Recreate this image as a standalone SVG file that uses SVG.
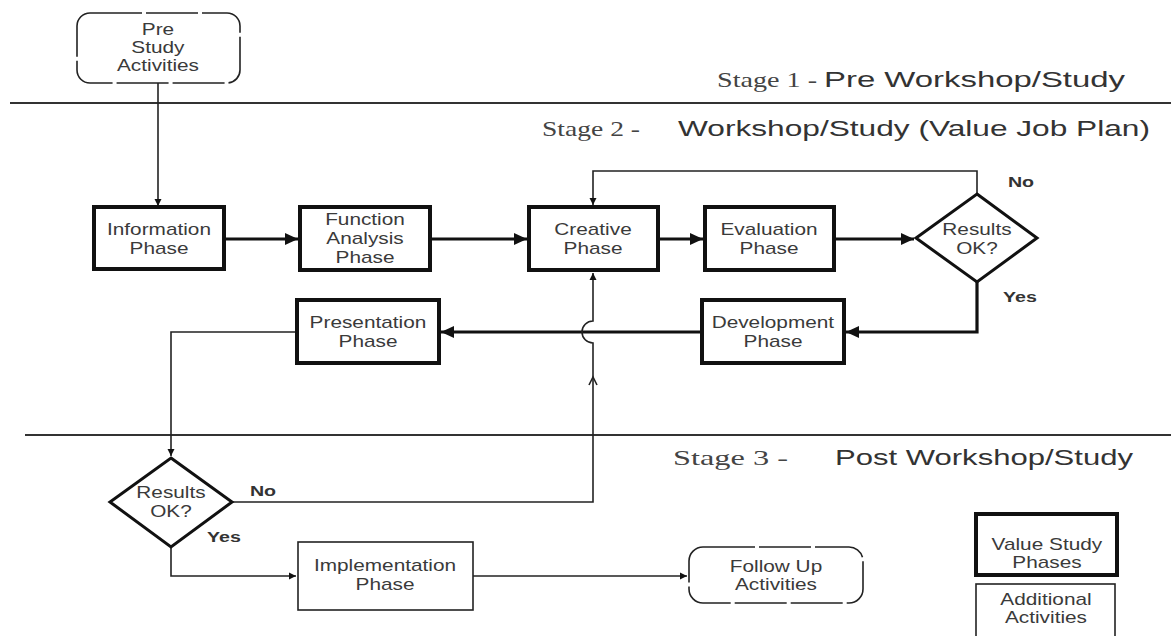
<svg xmlns="http://www.w3.org/2000/svg" width="1171" height="636" viewBox="0 0 1171 636">
<style>
  .bg{fill:#fff}
  .thick{fill:#fff;stroke:#111;stroke-width:4}
  .thin{fill:#fff;stroke:#222;stroke-width:1.6}
  .dash{fill:#fff;stroke:#222;stroke-width:1.6;stroke-dasharray:52 4}
  .sep{stroke:#333;stroke-width:1.8;fill:none}
  .c3{stroke:#111;stroke-width:3.2;fill:none}
  .c1{stroke:#222;stroke-width:1.6;fill:none}
  .t{font-family:"Liberation Sans",Arial,sans-serif;font-size:16px;fill:#3a3a3a;text-anchor:middle;transform-box:fill-box;transform-origin:center;transform:scaleX(1.3)}
  .b{font-family:"Liberation Sans",Arial,sans-serif;font-size:14px;font-weight:bold;fill:#333;text-anchor:middle;transform-box:fill-box;transform-origin:center;transform:scaleX(1.4)}
  .ss{font-family:"Liberation Serif","Times New Roman",serif;font-size:22px;fill:#444}
  .sn{font-family:"Liberation Sans",Arial,sans-serif;font-size:22px;fill:#333}
</style>
<defs>
  <marker id="ah" markerUnits="userSpaceOnUse" markerWidth="14" markerHeight="12" refX="13" refY="6" orient="auto">
    <path d="M0,0 L13,6 L0,12 z" fill="#111"/>
  </marker>
  <marker id="as" markerUnits="userSpaceOnUse" markerWidth="8" markerHeight="8" refX="7" refY="4" orient="auto">
    <path d="M0,0.5 L7,4 L0,7.5 z" fill="#111"/>
  </marker>
</defs>
<rect class="bg" x="0" y="0" width="1171" height="636"/>

<g id="stages">
  <line class="sep" x1="10" y1="103" x2="1171" y2="103"/>
  <line class="sep" x1="25" y1="435" x2="1171" y2="435"/>
  <text class="ss" x="717" y="87" textLength="100" lengthAdjust="spacingAndGlyphs">Stage 1 -</text>
  <text class="sn" x="824" y="87" textLength="301" lengthAdjust="spacingAndGlyphs">Pre Workshop/Study</text>
  <text class="ss" x="542" y="136" textLength="98" lengthAdjust="spacingAndGlyphs">Stage 2 -</text>
  <text class="sn" x="678" y="136" textLength="472" lengthAdjust="spacingAndGlyphs">Workshop/Study (Value Job Plan)</text>
  <text class="ss" x="673" y="465" textLength="115" lengthAdjust="spacingAndGlyphs">Stage 3 -</text>
  <text class="sn" x="835" y="465" textLength="298" lengthAdjust="spacingAndGlyphs">Post Workshop/Study</text>
</g>

<g id="connectors">
  <path class="c1" d="M158,83 V206" marker-end="url(#as)"/>
  <path class="c3" d="M224,239 H298" marker-end="url(#ah)"/>
  <path class="c3" d="M430,239 H527" marker-end="url(#ah)"/>
  <path class="c3" d="M658,239 H703" marker-end="url(#ah)"/>
  <path class="c3" d="M834,239 H914" marker-end="url(#ah)"/>
  <path class="c1" d="M977,194 V171 H593 V205" marker-end="url(#as)"/>
  <path class="c3" d="M977,282 V332 H846" marker-end="url(#ah)"/>
  <path class="c3" d="M702,332 H441" marker-end="url(#ah)"/>
  <path class="c1" d="M297,332 H171 V456" marker-end="url(#as)"/>
  <path class="c1" d="M232,502 H593 V343 A11,11 0 0 1 593,321 V273" marker-end="url(#as)"/>
  <path class="c1" d="M589,385 L593,377 L597,385"/>
  <path class="c1" d="M171,547 V576 H296" marker-end="url(#as)"/>
  <path class="c1" d="M473,576 H687" marker-end="url(#as)"/>
</g>

<g id="pre-study">
  <rect class="dash" x="77" y="13" width="163" height="70" rx="13"/>
  <text class="t" x="158" y="35">Pre</text>
  <text class="t" x="158" y="53">Study</text>
  <text class="t" x="158" y="71">Activities</text>
</g>
<g id="information">
  <rect class="thick" x="94" y="207" width="130" height="62"/>
  <text class="t" x="159" y="235">Information</text>
  <text class="t" x="159" y="254">Phase</text>
</g>
<g id="function">
  <rect class="thick" x="300" y="207" width="130" height="63"/>
  <text class="t" x="365" y="225">Function</text>
  <text class="t" x="365" y="244">Analysis</text>
  <text class="t" x="365" y="263">Phase</text>
</g>
<g id="creative">
  <rect class="thick" x="529" y="207" width="129" height="63"/>
  <text class="t" x="593" y="235">Creative</text>
  <text class="t" x="593" y="254">Phase</text>
</g>
<g id="evaluation">
  <rect class="thick" x="705" y="207" width="129" height="63"/>
  <text class="t" x="769" y="235">Evaluation</text>
  <text class="t" x="769" y="254">Phase</text>
</g>
<g id="decision-1">
  <polygon class="thick" points="977,194 1037,238 977,282 916,238" style="stroke-width:3"/>
  <text class="t" x="977" y="235">Results</text>
  <text class="t" x="977" y="254">OK?</text>
  <text class="b" x="1021" y="187">No</text>
  <text class="b" x="1020" y="302">Yes</text>
</g>
<g id="development">
  <rect class="thick" x="702" y="300" width="142" height="63"/>
  <text class="t" x="773" y="328">Development</text>
  <text class="t" x="773" y="347">Phase</text>
</g>
<g id="presentation">
  <rect class="thick" x="297" y="300" width="142" height="63"/>
  <text class="t" x="368" y="328">Presentation</text>
  <text class="t" x="368" y="347">Phase</text>
</g>
<g id="decision-2">
  <polygon class="thick" points="171,458 232,502 171,547 110,502" style="stroke-width:3"/>
  <text class="t" x="171" y="498">Results</text>
  <text class="t" x="171" y="517">OK?</text>
  <text class="b" x="263" y="496">No</text>
  <text class="b" x="224" y="542">Yes</text>
</g>
<g id="implementation">
  <rect class="thin" x="298" y="542" width="175" height="68"/>
  <text class="t" x="385" y="571">Implementation</text>
  <text class="t" x="385" y="590">Phase</text>
</g>
<g id="follow-up">
  <rect class="dash" x="689" y="547" width="174" height="56" rx="14"/>
  <text class="t" x="776" y="572">Follow Up</text>
  <text class="t" x="776" y="590">Activities</text>
</g>
<g id="legend-value">
  <rect class="thick" x="976" y="514" width="141" height="61"/>
  <text class="t" x="1047" y="550">Value Study</text>
  <text class="t" x="1047" y="568">Phases</text>
</g>
<g id="legend-additional">
  <rect class="thin" x="976" y="584" width="139" height="60"/>
  <text class="t" x="1046" y="605">Additional</text>
  <text class="t" x="1046" y="623">Activities</text>
</g>
</svg>
